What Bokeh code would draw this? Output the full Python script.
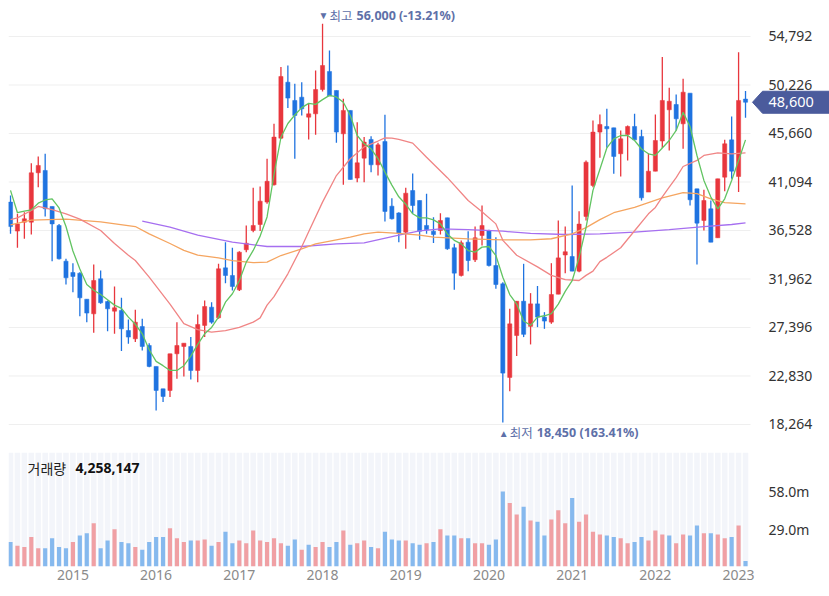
import numpy as np
import pandas as pd
from bokeh.plotting import figure
from bokeh.layouts import column
from bokeh.models import (ColumnDataSource, Range1d, FixedTicker, Label)
from bokeh.core.properties import value
from bokeh.embed import file_html
from bokeh.resources import INLINE

# ---------------- data (monthly candles, 2014-04 .. 2023-02) ----------------
start_month = "2014-04"

opens = [39200, 36470, 37310, 37310, 41960, 42180, 38790, 37000, 33640, 32570,
         32510, 30060, 28680, 31980, 29840, 28930, 29000, 27110, 26330, 27490,
         25700, 23730, 21620, 21470, 24920, 25610, 25610, 23350, 27590, 29310,
         28310, 33010, 32290, 30940, 34710, 36530, 37090, 39200, 40830, 45220,
         50490, 48770, 49080, 47200, 47510, 49800, 51500, 49710, 45630, 47830,
         41460, 43340, 45100, 42710, 44910, 38820, 38180, 36370, 40290, 39350,
         37000, 36460, 36530, 37720, 34900, 32290, 35430, 33770, 36060, 36530,
         33230, 31510, 22690, 26640, 29870, 27500, 29620, 28370, 27900, 30530,
         34220, 34080, 32700, 37850, 40770, 45790, 46320, 46190, 43750, 45570,
         46320, 45380, 40140, 42110, 44950, 47890, 48390, 46570, 49460, 40450,
         37470, 38570, 35840, 41550, 45060, 41610, 48900]

highs = [39820, 38100, 38250, 42870, 43490, 43750, 38790, 37150, 33860, 33450,
         32600, 30060, 33330, 32760, 29940, 31260, 30190, 28150, 29060, 28210,
         25920, 23730, 21620, 24920, 27900, 25920, 26490, 28620, 29940, 29780,
         33390, 35430, 34900, 34580, 37000, 40550, 40670, 43280, 46570, 51910,
         52060, 50340, 50490, 48450, 51590, 56000, 53470, 49710, 48920, 47830,
         46730, 45320, 45410, 44780, 47420, 39570, 38250, 40540, 41890, 39350,
         39980, 37780, 38160, 37720, 35270, 35590, 36460, 36900, 38880, 36590,
         35900, 31660, 29150, 29870, 33390, 30630, 31300, 28840, 33450, 37470,
         36900, 40770, 38350, 43120, 46880, 47450, 47980, 46190, 45940, 46410,
         47510, 46010, 43810, 47450, 52850, 49960, 49330, 50810, 49460, 40450,
         40360, 39350, 41390, 45060, 47260, 53320, 49650]

lows = [36210, 34900, 35740, 36150, 40610, 37850, 33640, 33800, 31440, 30720,
        28460, 27900, 26890, 29620, 27050, 26800, 25170, 25860, 26020, 25230,
        23660, 19580, 20370, 20840, 22560, 22780, 22500, 22250, 26490, 27740,
        28210, 31570, 30880, 30820, 34490, 36370, 36470, 39040, 40770, 45160,
        48050, 43280, 47360, 45100, 45540, 49610, 49180, 44780, 40830, 41330,
        41080, 41080, 42020, 41710, 37380, 37560, 35430, 34800, 38100, 35650,
        36210, 35340, 36150, 34710, 30940, 32200, 32700, 33550, 35120, 33140,
        31040, 18450, 21400, 24700, 26490, 25800, 27430, 27270, 27740, 30530,
        32500, 32700, 32600, 37470, 40610, 43370, 44310, 41860, 41610, 43120,
        45060, 39350, 40140, 42110, 44300, 44060, 45940, 44220, 38880, 33330,
        36530, 35430, 35840, 40230, 41390, 40140, 47140]

closes = [36900, 37150, 37630, 41960, 42650, 38570, 37150, 33860, 32070, 32200,
          30190, 28750, 31820, 29720, 29150, 29250, 27270, 26490, 27900, 25610,
          23730, 21470, 20900, 24920, 25700, 25920, 23350, 27680, 29370, 27900,
          32920, 32290, 31260, 34490, 35330, 37000, 39290, 41160, 45320, 51030,
          48990, 47360, 47980, 47510, 49800, 52060, 49180, 45790, 47830, 41330,
          42900, 44850, 42710, 44590, 38320, 37630, 36300, 40040, 38880, 36460,
          36590, 36150, 37470, 34800, 32510, 35370, 33700, 35840, 37000, 33230,
          31440, 23100, 27740, 29870, 26750, 29620, 28370, 28000, 30500, 33950,
          34530, 32700, 37130, 42960, 45790, 46510, 46100, 43500, 45160, 46320,
          45060, 39600, 42110, 45000, 48770, 48700, 47040, 49550, 39420, 37220,
          39350, 35430, 41390, 44690, 42110, 48770, 48600]

# volume in millions of shares
volumes_m = [18.98, 16.12, 15.08, 22.88, 14.04, 14.04, 21.84, 15.08, 14.04, 18.98,
             23.92, 25.74, 33.54, 14.04, 20.02, 28.86, 18.98, 17.94, 15.08, 13.00,
             18.98, 22.88, 22.88, 29.64, 21.84, 18.98, 20.02, 20.02, 20.80, 16.12,
             18.98, 26.78, 17.94, 20.02, 17.94, 27.82, 20.02, 18.98, 21.84, 17.94,
             16.12, 20.80, 13.00, 16.90, 15.08, 18.98, 15.08, 18.98, 27.82, 16.90,
             17.94, 20.02, 15.08, 14.04, 26.78, 20.80, 20.02, 20.02, 17.94, 16.90,
             17.94, 18.98, 28.86, 23.92, 23.92, 21.84, 21.84, 17.94, 17.94, 16.90,
             20.80, 57.98, 49.14, 40.30, 46.28, 35.62, 34.58, 23.92, 36.40, 43.42,
             33.54, 53.04, 34.58, 40.30, 26.78, 24.70, 23.92, 22.88, 21.84, 17.94,
             18.98, 22.88, 20.02, 27.82, 24.70, 23.92, 17.94, 24.70, 23.92, 31.72,
             25.74, 25.74, 24.70, 21.84, 22.88, 31.72, 4.258147]
# volume bar colour as read: R = up, B = down
vol_dir = ("BRRRRBBBBRBBRBBRBBRBBBBRRRBRRBRBBRRRRRRRBBRBRRBBRBRRBRBBBRBB"
           "RBRBBRBRRBBBRRBRBBRRRBRRRRBBRRBBRRRBRRBBRBRRBRB")

# moving averages: index, value
ma5_idx = list(range(107))
ma5_val = [40300, 38200, 38350, 38470, 39100, 39400, 39500, 38650, 36900, 34600,
           32900, 31440, 30900, 30500, 30000, 29500, 29200, 28370, 27700, 26800,
           25300, 24200, 23800, 23350, 23350, 23800, 24700, 25800, 26800, 27400,
           28370, 29780, 30570, 31800, 33550, 34650, 36000, 37800, 41800, 45300,
           46600, 47400, 48100, 48500, 48400, 48850, 49250, 49100, 48600, 47350,
           45470, 44690, 44220, 43300, 42020, 40800, 39700, 39000, 38100, 37720,
           37720, 37530, 37150, 36200, 35600, 35270, 34640, 34490, 34960, 35020,
           34170, 32130, 30500, 29600, 28000, 27600, 28370, 28500, 28700, 29600,
           30800, 31800, 34000, 36800, 40300, 42300, 44300, 45150, 45470, 45470,
           45000, 44200, 43750, 43600, 44300, 45000, 45950, 47650, 46320, 43590,
           41240, 39670, 38570, 39510, 41240, 43120, 45060]

ma20_idx = [0, 1, 3, 4, 6, 8, 10, 13, 15, 17, 18, 20, 23, 25, 27, 29, 31, 33, 35, 36,
            37, 38, 40, 42, 43, 45, 47, 49, 51, 53, 54, 55, 56, 58, 60, 63, 66, 68, 70, 71,
            73, 76, 78, 80, 82, 83, 84, 85, 86, 88, 90, 92, 93, 94, 95, 96, 97, 99, 100, 102,
            104, 106]
ma20_val = [37550, 37720, 38410, 38790, 38500, 38100, 37600, 36530, 35300, 34200, 33700, 32130,
            29600, 27750, 27200, 26960, 27100, 27400, 27900, 28300, 29500, 30300, 32450, 35000,
            36400, 39200, 41700, 43280, 44400, 44950, 45250, 45220, 45100, 44750, 43430, 41500,
            39350, 38300, 37150, 35600, 34200, 33100, 32300, 31900, 31820, 32300, 32700, 33600,
            34000, 34900, 36500, 38100, 38700, 39700, 40600, 41500, 42550, 43120, 43590, 43840,
            43750, 43840]

ma60_idx = [0, 3, 8, 13, 18, 20, 23, 25, 27, 30, 32, 35, 37, 39, 42, 44, 47, 49, 51, 53,
            56, 59, 61, 66, 71, 75, 78, 81, 83, 85, 87, 90, 92, 94, 97, 99, 101, 103, 106]
ma60_val = [37050, 37500, 37600, 37330, 36900, 36210, 35300, 34650, 34200, 33950, 33700,
            33500, 33550, 34170, 34800, 35270, 35650, 35900, 36210, 36370, 36250, 36100,
            35900, 35740, 35650, 35650, 35750, 36210, 36800, 37550, 38200, 38700, 39150,
            39600, 40100, 40000, 39500, 39150, 39040]

ma120_idx = [19, 23, 27, 32, 37, 42, 47, 51, 56, 59, 62, 66, 71, 75, 80, 85, 90, 95, 100, 104, 106]
ma120_val = [37400, 36850, 36100, 35430, 35020, 35020, 35270, 35370, 36100, 36500, 36680,
             36600, 36460, 36250, 36150, 36210, 36370, 36600, 36900, 37090, 37250]

price_ticks = [18264, 22830, 27396, 31962, 36528, 41094, 45660, 50226, 54792]
vol_ticks = [29.0, 58.0]
volume_label = "거래량"
high_label = "최고"
low_label = "최저"

# ---------------- styling / geometry ----------------
UP, DOWN = "#e8363d", "#1f73e0"
VOL_UP, VOL_DOWN = "#f0a0a4", "#86b9ee"
ANNO = "#5e70a8"
TAG = "#4b5b9c"
CJK = "Noto Sans CJK KR"
NUM = "Noto Sans"

W = 829
LEFT = 8                 # left border
PX_PER_MONTH = 6.934
X0 = -0.29               # x range start
CHART_W = 742            # candle area width (px)
P_TOP = 8                # price frame top
P_H = 436                # price frame height
PRICE_PER_PX = 94.15
Y_TOP_VAL = 57428        # price at the frame top
LABEL_DX = 23            # right-side labels: px right of the last candle

n = len(closes)
x = list(range(n))
months = pd.date_range(start_month, periods=n, freq="MS")
jan_idx = [i for i, m in enumerate(months) if m.month == 1]
year_labels = {i: str(months[i].year) for i in jan_idx}

chart_x1 = X0 + CHART_W / PX_PER_MONTH
frame_x1 = X0 + (W - LEFT) / PX_PER_MONTH
y0_val = Y_TOP_VAL - P_H * PRICE_PER_PX

colors = [UP if c >= o else DOWN for o, c in zip(opens, closes)]
src = ColumnDataSource(dict(
    x=x, open=opens, high=highs, low=lows, close=closes,
    top=[max(o, c) for o, c in zip(opens, closes)],
    bottom=[min(o, c) for o, c in zip(opens, closes)],
    color=colors))

p = figure(width=W, height=P_TOP + P_H, x_range=Range1d(X0, frame_x1),
           y_range=Range1d(y0_val, Y_TOP_VAL),
           output_backend="svg", toolbar_location=None,
           x_axis_location=None, y_axis_location=None,
           min_border_left=LEFT, min_border_right=0, min_border_top=P_TOP, min_border_bottom=0)
p.outline_line_color = None
p.grid.visible = False

# horizontal grid lines limited to the candle area
p.segment(x0=[X0] * len(price_ticks), y0=price_ticks, x1=[chart_x1] * len(price_ticks),
          y1=price_ticks, color="#efefef", line_width=1)

p.segment(x0="x", y0="high", x1="x", y1="low", color="color", line_width=1.3, source=src)
p.vbar(x="x", width=0.6, top="top", bottom="bottom", fill_color="color",
       line_color="color", line_width=0.5, source=src)

p.line(ma120_idx, ma120_val, color="#a66ff0", line_width=1.3)
p.line(ma60_idx, ma60_val, color="#f5a560", line_width=1.3)
p.line(ma20_idx, ma20_val, color="#f08585", line_width=1.3)
p.line(ma5_idx, ma5_val, color="#62c462", line_width=1.3)

# price axis labels (right side)
p.text(x=[n - 1] * len(price_ticks), y=price_ticks, text=[f"{t:,}" for t in price_ticks],
       x_offset=LABEL_DX, text_font=value(NUM), text_font_size="14px", text_color="#333333",
       text_baseline="middle", text_align="left")

# max / min annotations
i_hi = int(np.argmax(highs)); hi = highs[i_hi]
i_lo = int(np.argmin(lows)); lo = lows[i_lo]
last = closes[-1]
pct_hi = (last / hi - 1) * 100
pct_lo = (last / lo - 1) * 100

def add_anno(idx, val, yoff, arrow, word, num):
    p.add_layout(Label(x=idx, y=val, x_offset=-4, y_offset=yoff, text=arrow,
                       text_font=NUM, text_font_size="10px", text_color=ANNO,
                       text_baseline="middle", text_align="left"))
    p.add_layout(Label(x=idx, y=val, x_offset=7, y_offset=yoff, text=word,
                       text_font=CJK, text_font_size="12.5px", text_color=ANNO,
                       text_baseline="middle", text_align="left"))
    p.add_layout(Label(x=idx, y=val, x_offset=34, y_offset=yoff, text=num,
                       text_font=NUM, text_font_size="12.5px", text_font_style="bold",
                       text_color=ANNO, text_baseline="middle", text_align="left"))

add_anno(i_hi, hi, 8.5, "▼", high_label, f"{hi:,} ({pct_hi:.2f}%)")
add_anno(i_lo, lo, -10.5, "▲", low_label, f"{lo:,} ({pct_lo:.2f}%)")

# current price tag (pointer shape measured in pixels from the last candle)
tag_dx = [7, 17, 95, 95, 17]
tag_dy = [0, 11, 11, -11, -11]
p.patch([n - 1 + d / PX_PER_MONTH for d in tag_dx],
        [last + d * PRICE_PER_PX for d in tag_dy],
        fill_color=TAG, line_color=TAG)
p.text(x=[n - 1], y=[last], text=[f"{last:,}"], x_offset=LABEL_DX,
       text_font=value(NUM), text_font_size="14.5px", text_color="white",
       text_baseline="middle", text_align="left")

# ---------------- volume panel ----------------
V_TOP = 8
V_BOTTOM = 30
V_H = 114
vmax = 58.0 / (1 - 39.0 / V_H)

vcolors = [VOL_UP if d == "R" else VOL_DOWN for d in vol_dir]
vsrc = ColumnDataSource(dict(x=x, v=volumes_m, color=vcolors))

q = figure(width=W, height=V_TOP + V_H + V_BOTTOM, x_range=Range1d(X0, frame_x1),
           y_range=Range1d(0, vmax),
           output_backend="svg", toolbar_location=None,
           y_axis_location=None,
           min_border_left=LEFT, min_border_right=0,
           min_border_top=V_TOP, min_border_bottom=V_BOTTOM)
q.outline_line_color = None
q.grid.visible = False
q.vbar(x=x, top=vmax, width=0.8, fill_color="#f3f5fa", line_color=None)
q.vbar(x="x", top="v", width=0.6, fill_color="color", line_color=None, source=vsrc)

# volume axis labels (right side)
q.text(x=[n - 1] * len(vol_ticks), y=vol_ticks, text=[f"{t:.1f}m" for t in vol_ticks],
       x_offset=LABEL_DX, text_font=value(NUM), text_font_size="14px", text_color="#333333",
       text_baseline="middle", text_align="left")

q.xaxis.ticker = FixedTicker(ticks=jan_idx)
q.xaxis.major_label_overrides = year_labels
q.xaxis.axis_line_color = None
q.xaxis.major_tick_line_color = None
q.xaxis.minor_tick_line_color = None
q.xaxis.major_tick_out = 0
q.xaxis.major_tick_in = 0
q.xaxis.major_label_standoff = 3
q.xaxis.major_label_text_font = NUM
q.xaxis.major_label_text_font_size = "14px"
q.xaxis.major_label_text_color = "#8a8a8a"

q.add_layout(Label(x=0, y=vmax, x_offset=17, y_offset=-15, text=volume_label,
                   text_font=CJK, text_font_size="14px", text_color="#222222",
                   text_baseline="middle", text_align="left"))
q.add_layout(Label(x=0, y=vmax, x_offset=65, y_offset=-15,
                   text=f"{int(round(volumes_m[-1] * 1e6)):,}",
                   text_font=NUM, text_font_size="14px", text_font_style="bold",
                   text_color="#111111", text_baseline="middle", text_align="left"))

layout = column(p, q, spacing=0)
open("out.html", "w").write(file_html(layout, INLINE))
